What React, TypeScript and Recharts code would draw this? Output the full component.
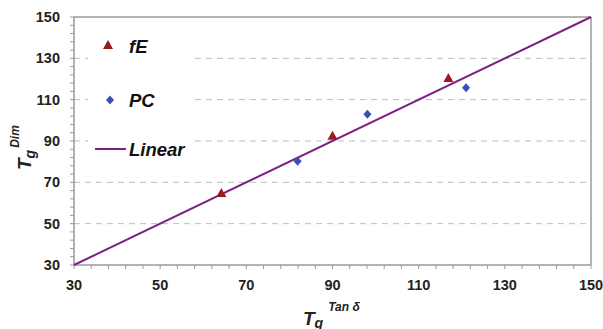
import React from 'react';
import { ScatterChart, Scatter, XAxis, YAxis, ReferenceLine } from 'recharts';

const fE = [
  { x: 64.2, y: 64.8 },
  { x: 90.0, y: 92.6 },
  { x: 116.9, y: 120.5 },
];
const PC = [
  { x: 81.9, y: 80.2 },
  { x: 98.1, y: 102.9 },
  { x: 121.0, y: 115.8 },
];
const linear = [
  { x: 30, y: 30 },
  { x: 150, y: 150 },
];
const majorTicks = [30, 50, 70, 90, 110, 130, 150];
const allTicks = [30, 34, 38, 42, 46, 50, 54, 58, 62, 66, 70, 74, 78, 82, 86, 90, 94, 98, 102, 106, 110, 114, 118, 122, 126, 130, 134, 138, 142, 146, 150];
const gridValues = [50, 70, 90, 110, 130];

const RED = '#9b1a1a';
const BLUE = '#3b4db8';
const PURPLE = '#7e1f86';
const AXIS = '#9a9a9a';
const FONT = '"Liberation Sans", Arial, Helvetica, sans-serif';

const Triangle = (p: any) => {
  const { cx, cy } = p;
  if (cx == null || cy == null) return null;
  return <polygon points={`${cx},${cy - 5} ${cx + 5},${cy + 4} ${cx - 5},${cy + 4}`} fill={RED} />;
};
const Diamond = (p: any) => {
  const { cx, cy } = p;
  if (cx == null || cy == null) return null;
  return <polygon points={`${cx},${cy - 4.5} ${cx + 4},${cy} ${cx},${cy + 4.5} ${cx - 4},${cy}`} fill={BLUE} />;
};
const NoShape = () => null;

const XTick = (p: any) => {
  const { x, y, payload } = p;
  if (!majorTicks.includes(payload.value)) return null;
  return (
    <text x={x} y={y + 19} textAnchor="middle" fontFamily={FONT} fontWeight="bold" fontSize={14.5} fill="#222">
      {payload.value}
    </text>
  );
};
const YTick = (p: any) => {
  const { x, y, payload } = p;
  if (!majorTicks.includes(payload.value)) return null;
  return (
    <text x={x - 8} y={y + 5} textAnchor="end" fontFamily={FONT} fontWeight="bold" fontSize={14.5} fill="#222">
      {payload.value}
    </text>
  );
};

const XLabel = () => (
  <text x={303} y={325} fontFamily={FONT} fontWeight="bold" fontStyle="italic" fill="#222">
    <tspan fontSize={19}>T</tspan>
    <tspan fontSize={14} dy={3}>g</tspan>
    <tspan fontSize={12} dx={5} dy={-17}>Tan δ</tspan>
  </text>
);
const YLabel = () => (
  <text x={0} y={0} transform="translate(31,170) rotate(-90)" fontFamily={FONT} fontWeight="bold" fontStyle="italic" fill="#222">
    <tspan fontSize={19}>T</tspan>
    <tspan fontSize={14} dy={4}>g</tspan>
    <tspan fontSize={12} dx={2} dy={-16}>Dim</tspan>
  </text>
);

const LegendBox = () => (
  <svg width={104} height={140} style={{ display: 'block', background: '#fff' }}>
    <polygon points="20,17 25,26 15,26" fill={RED} />
    <text x={41} y={30} fontFamily={FONT} fontWeight="bold" fontStyle="italic" fontSize={18.5} fill="#111">fE</text>
    <polygon points="22,72.5 26,77 22,81.5 18,77" fill={BLUE} />
    <text x={41} y={84} fontFamily={FONT} fontWeight="bold" fontStyle="italic" fontSize={18.5} fill="#111">PC</text>
    <line x1={7} y1={126} x2={38} y2={126} stroke={PURPLE} strokeWidth={2} />
    <text x={41} y={133} fontFamily={FONT} fontWeight="bold" fontStyle="italic" fontSize={18.5} fill="#111">Linear</text>
  </svg>
);

export default function App() {
  return (
    <div style={{ position: 'absolute', left: 0, top: 0, width: 603, height: 329, background: '#fff' }}>
      <ScatterChart width={603} height={329} margin={{ top: 17, right: 12, left: 24, bottom: 34 }}>
        <XAxis
          type="number"
          dataKey="x"
          domain={[30, 150]}
          ticks={allTicks}
          interval={0}
          tick={<XTick />}
          tickSize={4}
          tickLine={{ stroke: AXIS }}
          axisLine={{ stroke: AXIS, strokeWidth: 1.5 }}
          height={30}
          label={<XLabel />}
        />
        <YAxis
          type="number"
          dataKey="y"
          domain={[30, 150]}
          ticks={allTicks}
          interval={0}
          tick={<YTick />}
          tickSize={4}
          tickLine={{ stroke: AXIS }}
          axisLine={{ stroke: AXIS, strokeWidth: 1.5 }}
          width={50}
          label={<YLabel />}
        />
        {gridValues.map((v) => (
          <ReferenceLine key={v} y={v} stroke="#bdbdbd" strokeDasharray="6 5" />
        ))}
        <ReferenceLine y={150} stroke={AXIS} strokeWidth={1.5} />
        <ReferenceLine x={150} stroke={AXIS} strokeWidth={1.5} />
        <Scatter name="Linear" data={linear} line={{ stroke: PURPLE, strokeWidth: 2 }} shape={<NoShape />} isAnimationActive={false} />
        <Scatter name="fE" data={fE} shape={<Triangle />} isAnimationActive={false} />
        <Scatter name="PC" data={PC} shape={<Diamond />} isAnimationActive={false} />
      </ScatterChart>
      <div style={{ position: 'absolute', left: 88, top: 23 }}>
        <LegendBox />
      </div>
    </div>
  );
}
